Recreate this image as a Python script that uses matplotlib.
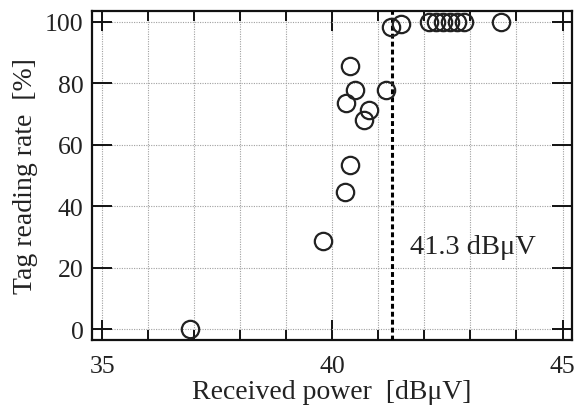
import matplotlib
matplotlib.use("Agg")
import matplotlib.pyplot as plt
from matplotlib.ticker import MultipleLocator

# Measured tag reading rate versus received power
power_dbuv = [36.9, 39.8, 40.28, 40.38, 40.38, 40.49, 40.29, 40.79, 40.69,
              41.17, 41.28, 41.5, 42.1, 42.25, 42.4, 42.55, 42.7, 42.86, 43.67]
read_rate = [0.0, 28.8, 44.5, 53.4, 85.6, 77.9, 73.5, 71.4, 67.9,
             77.9, 98.2, 99.3, 100, 100, 100, 100, 100, 100, 100]
threshold = 41.3
threshold_label = "41.3 dBμV"

x_ticks = [35, 40, 45]
y_ticks = [0, 20, 40, 60, 80, 100]

plt.rcParams["font.family"] = ["Liberation Serif", "DejaVu Serif"]

TICK_FS = 18.5
LABEL_FS = 20
NOTE_FS = 20.5

fig = plt.figure(figsize=(5.74, 4.10), dpi=100)
ax = fig.add_axes([0.160, 0.168, 0.836, 0.803])

ax.set_xlim(34.77, 45.2)
ax.set_ylim(-3.6, 103.5)

ax.set_xticks(x_ticks)
ax.set_yticks(y_ticks)
ax.xaxis.set_minor_locator(MultipleLocator(1))

grid_kw = dict(color="#a0a0a0", linestyle=(0, (1, 1.2)), linewidth=0.8)
ax.grid(True, which="both", axis="x", **grid_kw)
ax.grid(True, which="major", axis="y", **grid_kw)
ax.set_axisbelow(True)

ax.tick_params(which="major", direction="in", length=14.4, width=1.4,
               top=True, right=True, labelsize=TICK_FS, pad=6, color="#111111",
               labelcolor="#222222")
ax.tick_params(which="minor", direction="in", length=7.2, width=1.4,
               top=True, right=False, color="#111111")
ax.tick_params(axis="y", which="minor", left=False, right=False)
ax.tick_params(axis="x", which="major", pad=11)

for sp in ax.spines.values():
    sp.set_linewidth(1.6)
    sp.set_color("#111111")

ax.axvline(threshold, color="black", linewidth=2.2, linestyle=(0, (1.6, 1.0)), zorder=3)

ax.plot(power_dbuv, read_rate, linestyle="none", marker="o", markersize=12.5,
        markerfacecolor="none", markeredgecolor="#222222", markeredgewidth=1.6,
        clip_on=False, zorder=4)

ax.text(41.68, 26.7, threshold_label, fontsize=NOTE_FS, ha="left", va="center",
        color="#222222")

ax.set_xlabel("Received power  [dBμV]", fontsize=LABEL_FS, labelpad=1, color="#222222")
ax.set_ylabel("Tag reading rate  [%]", fontsize=LABEL_FS, labelpad=5, color="#222222")

fig.savefig("out.png", dpi=100)
